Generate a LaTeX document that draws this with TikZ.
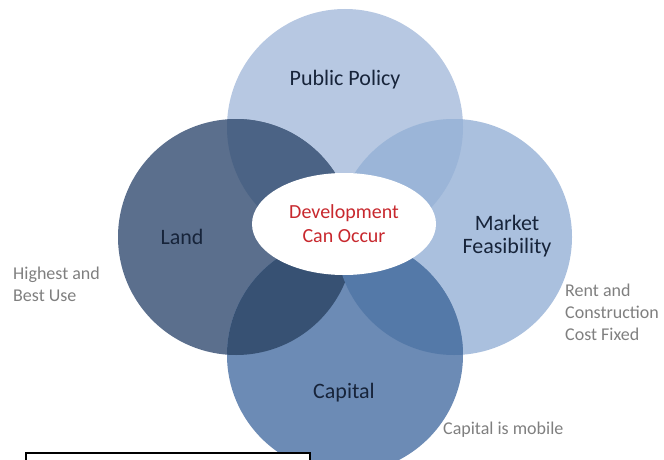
\documentclass[tikz,border=0pt]{standalone}
\usepackage{fontspec}
\setmainfont{Carlito}
\usepackage{tikz}
\usetikzlibrary{positioning,shapes.geometric}
\usepackage{xcolor}
\definecolor{PolicyBlue}{HTML}{B7C8E2}
\definecolor{LandBlue}{HTML}{5B6F8D}
\definecolor{MarketBlue}{HTML}{AAC0DE}
\definecolor{CapitalBlue}{HTML}{6C8BB5}
\definecolor{PolicyLand}{HTML}{4B6385}
\definecolor{PolicyMarket}{HTML}{9BB5D8}
\definecolor{LandCapital}{HTML}{375173}
\definecolor{MarketCapital}{HTML}{5479A8}
\definecolor{LabelNavy}{HTML}{17243A}
\definecolor{NoteGrey}{HTML}{7F7F7F}
\definecolor{OccurRed}{HTML}{C8282E}

\begin{document}
\begin{tikzpicture}[
				x=1pt, y=-1pt,
				ring/.style={
					circle,
					minimum size=236pt,
					inner sep=0pt
				},
				lbl/.style={
					text=LabelNavy,
					align=center,
					inner sep=0pt,
					font=\fontsize{22}{23}\selectfont
				},
				note/.style={
					text=NoteGrey,
					align=left,
					anchor=west,
					inner sep=0pt,
					font=\fontsize{18}{22}\selectfont
				}
				]
				
				\useasboundingbox (0,0) rectangle (664,460);
				\clip (0,0) rectangle (664,460);
				
				\node[ring, fill=PolicyBlue] (policy) at (345,127) {};
				\node[ring, fill=LandBlue] (land) at (236,237) {};
				\node[ring, fill=MarketBlue] (market) at (454,237) {};
				\node[ring, fill=CapitalBlue] (capital) at (345,355) {};
				
				\begin{scope}
					\clip (policy.center) circle[radius=118pt];
					\fill[PolicyLand] (land.center) circle[radius=118pt];
					\fill[PolicyMarket] (market.center) circle[radius=118pt];
				\end{scope}
				\begin{scope}
					\clip (capital.center) circle[radius=118pt];
					\fill[LandCapital] (land.center) circle[radius=118pt];
					\fill[MarketCapital] (market.center) circle[radius=118pt];
				\end{scope}
				
				\node[
				ellipse,
				fill=white,
				minimum width=184pt,
				minimum height=102pt,
				inner sep=0pt,
				text=OccurRed,
				align=center,
				font=\fontsize{20}{24}\selectfont
				] (occur) at (344,224) {Development\\Can Occur};
				
				\node[lbl] (policylbl) at (345,80) {Public Policy};
				\node[lbl] (landlbl) at (182,237) {Land};
				\node[lbl] (marketlbl) at (507,236) {Market\\Feasibility};
				\node[lbl] (capitallbl) at (344,393) {Capital};
				
				\node[note] (landnote) at (13,284) {Highest and\\Best Use};
				\node[note] (marketnote) at (565,312) {Rent and\\Construction\\Cost Fixed};
				\node[note] (capitalnote) at (443,430) {Capital is mobile};
				
				\node[
				draw=black,
				fill=white,
				line width=1.8pt,
				minimum width=284pt,
				minimum height=30pt,
				inner sep=0pt,
				anchor=north west
				] (caption) at (25,452) {};
				
			\end{tikzpicture}
\end{document}
